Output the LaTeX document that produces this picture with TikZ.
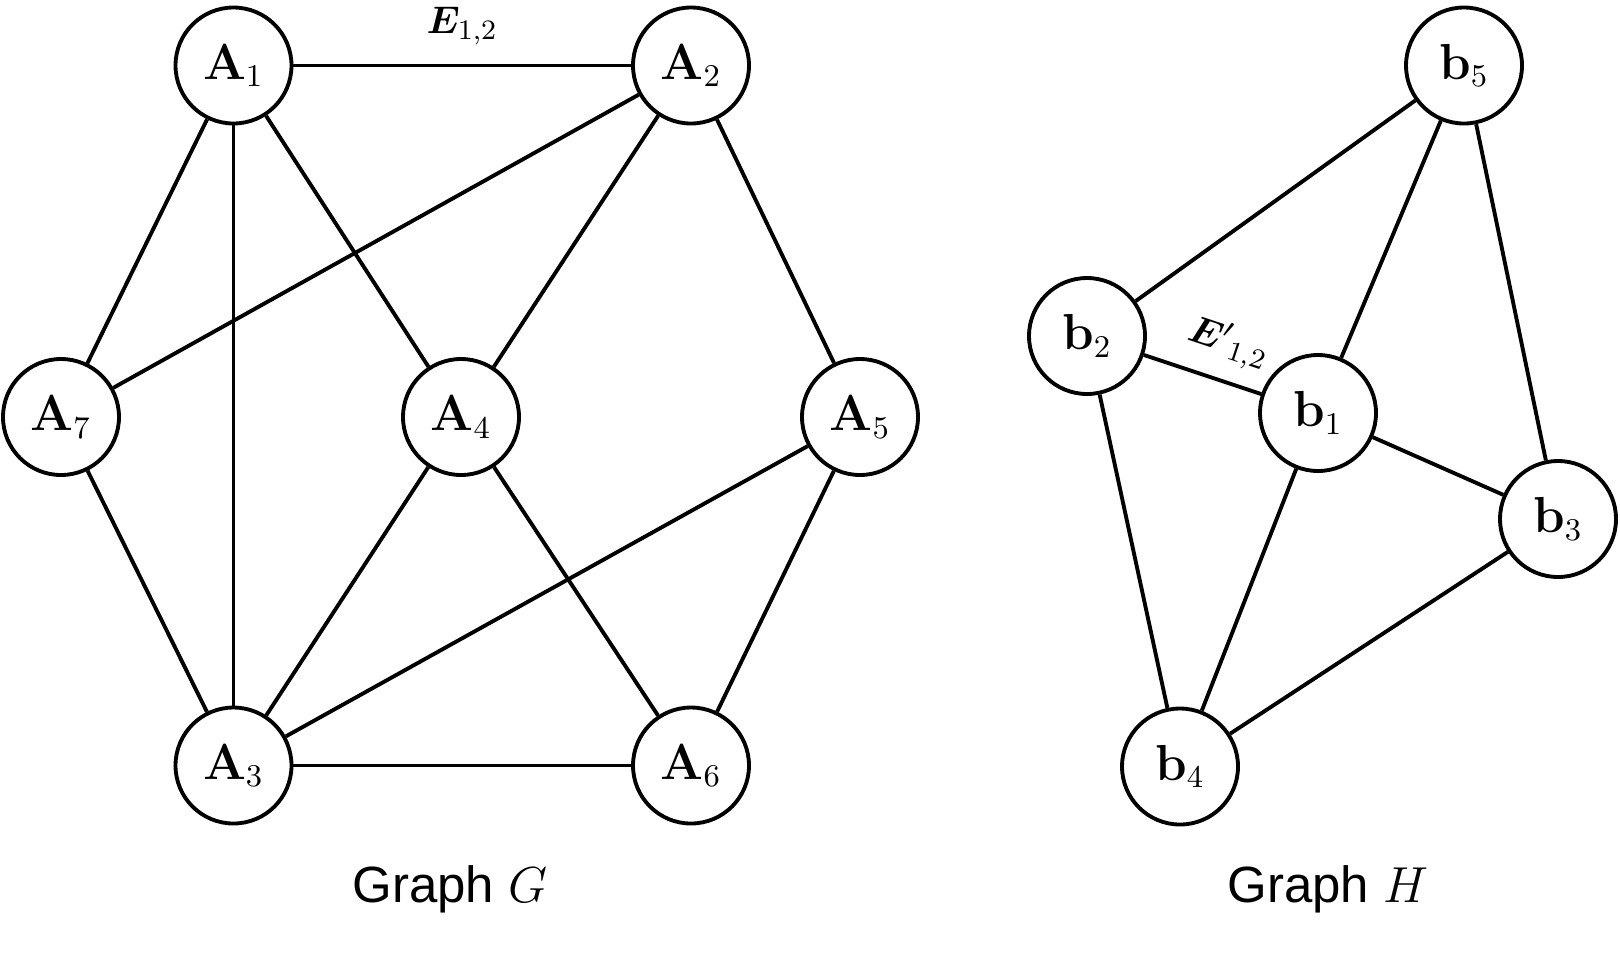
\documentclass[tikz,border=0pt]{standalone}
\usepackage{amsmath}
\usepackage{bm}
\usepackage[no-math]{fontspec}
\setmainfont{Liberation Sans}
\usetikzlibrary{calc}

\tikzset{
  vertex/.style={draw, circle, line width=1.1pt, minimum size=1.16cm, inner sep=0pt,
    font=\fontsize{13.5}{16}\selectfont},
  edge/.style={line width=1.1pt, black},
  elabel/.style={font=\fontsize{11}{13}\selectfont},
  caption/.style={font=\fontsize{14.5}{17}\selectfont}
}

\begin{document}
\begin{tikzpicture}
\useasboundingbox (0,0) rectangle (16.2,-9.52);

% Graph G vertices
\node[vertex] (A1) at (2.335,-0.655) {$\mathbf{A}_1$};
\node[vertex] (A2) at (6.91,-0.655) {$\mathbf{A}_2$};
\node[vertex] (A7) at (0.61,-4.17) {$\mathbf{A}_7$};
\node[vertex] (A4) at (4.61,-4.17) {$\mathbf{A}_4$};
\node[vertex] (A5) at (8.60,-4.17) {$\mathbf{A}_5$};
\node[vertex] (A3) at (2.335,-7.655) {$\mathbf{A}_3$};
\node[vertex] (A6) at (6.91,-7.655) {$\mathbf{A}_6$};

% Graph H vertices
\node[vertex] (b5) at (14.64,-0.655) {$\mathbf{b}_5$};
\node[vertex] (b2) at (10.87,-3.36) {$\mathbf{b}_2$};
\node[vertex] (b1) at (13.18,-4.13) {$\mathbf{b}_1$};
\node[vertex] (b3) at (15.58,-5.19) {$\mathbf{b}_3$};
\node[vertex] (b4) at (11.80,-7.665) {$\mathbf{b}_4$};

% Edges of G
\draw[edge] (A1) -- node[above=2pt, elabel] (e12) {$\bm{E}_{1,2}$} (A2);
\draw[edge] (A1) -- (A7);
\draw[edge] (A1) -- (A3);
\draw[edge] (A1) -- (A4);
\draw[edge] (A2) -- (A7);
\draw[edge] (A2) -- (A4);
\draw[edge] (A2) -- (A5);
\draw[edge] (A7) -- (A3);
\draw[edge] (A4) -- (A3);
\draw[edge] (A4) -- (A6);
\draw[edge] (A5) -- (A3);
\draw[edge] (A5) -- (A6);
\draw[edge] (A3) -- (A6);

% Edges of H
\draw[edge] (b2) -- node[above=1pt, sloped, pos=0.62, elabel] (f12) {$\bm{E}'{}_{1,2}$} (b1);
\draw[edge] (b5) -- (b2);
\draw[edge] (b5) -- (b1);
\draw[edge] (b5) -- (b3);
\draw[edge] (b2) -- (b4);
\draw[edge] (b1) -- (b3);
\draw[edge] (b1) -- (b4);
\draw[edge] (b3) -- (b4);

% Captions
\node[caption] (capG) at (4.50,-8.89) {Graph $G$};
\node[caption] (capH) at (13.28,-8.89) {Graph $H$};
\end{tikzpicture}
\end{document}
